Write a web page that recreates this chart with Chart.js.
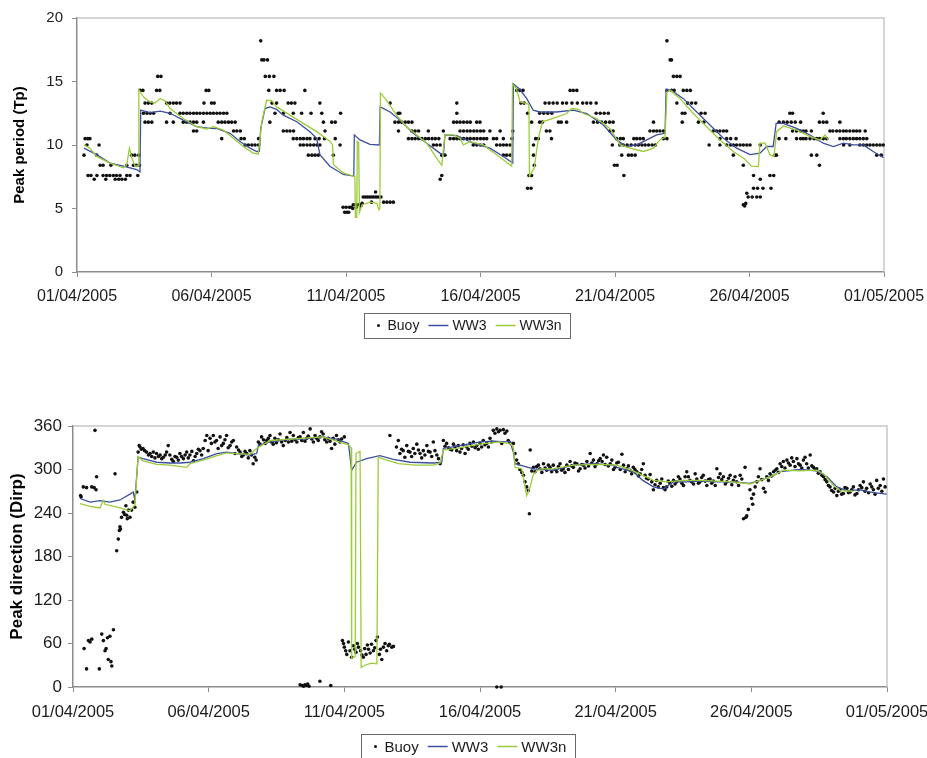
<!DOCTYPE html>
<html>
<head>
<meta charset="utf-8">
<script src="https://cdn.jsdelivr.net/npm/chart.js@4.4.1/dist/chart.umd.min.js"></script>
<style>
  html, body { margin: 0; padding: 0; background: #fff; width: 927px; height: 758px; overflow: hidden; }
  .panel { position: absolute; left: 0; width: 927px; }
  #topPanel { top: 0; height: 350px; }
  #bottomPanel { top: 400px; height: 358px; }
  canvas { display: block; }
</style>
</head>
<body>
<div class="panel" id="topPanel"><canvas id="tpChart" width="927" height="350"></canvas></div>
<div class="panel" id="bottomPanel"><canvas id="dirChart" width="927" height="358"></canvas></div>
<script>
// ---- axis labels ----
const dateTickDays = [0, 5, 10, 15, 20, 25, 30];            // days since 01/04/2005
const dateLabels = ['01/04/2005', '06/04/2005', '11/04/2005', '16/04/2005', '21/04/2005', '26/04/2005', '01/05/2005'];
const tpTickValues = [0, 5, 10, 15, 20];
const dirTickValues = [0, 60, 120, 180, 240, 300, 360];
const seriesNames = ['Buoy', 'WW3', 'WW3n'];

// ---- peak period (s): [day, Tp] ----
const tpWW3 = [[0.26,9.75],[0.73,9.24],[1.23,8.58],[1.72,8.33],[2.22,8.07],[2.34,7.88],[2.37,12.74],[2.71,12.55],[3.09,12.66],[3.46,12.5],[3.95,11.96],[4.45,11.44],[4.94,11.31],[5.19,11.3],[5.69,10.92],[6.06,10.27],[6.43,9.75],[6.68,9.49],[6.78,9.5],[6.83,11.31],[6.99,12.87],[7.17,13.0],[7.42,12.8],[7.67,12.35],[8.17,11.83],[8.66,11.05],[8.91,10.53],[9.03,9.24],[9.4,8.33],[9.9,7.68],[10.29,7.55],[10.31,10.8],[10.52,10.4],[10.89,10.05],[11.24,10.0],[11.27,13.0],[11.64,12.6],[12.0,11.96],[12.5,10.92],[13.0,10.14],[13.49,9.36],[13.62,9.2],[13.68,10.79],[14.12,10.74],[14.73,10.14],[15.35,9.75],[15.85,9.1],[16.2,8.58],[16.22,14.81],[16.47,14.37],[16.72,13.65],[16.96,12.74],[17.2,12.6],[17.83,12.6],[18.45,12.74],[18.95,12.48],[19.57,11.57],[20.06,10.4],[20.43,9.88],[20.81,10.01],[21.18,10.4],[21.55,10.79],[21.86,10.92],[21.9,14.37],[22.1,14.3],[22.54,13.65],[23.04,12.6],[23.53,11.57],[24.03,10.53],[24.52,9.75],[25.02,9.24],[25.39,9.36],[25.64,9.88],[25.88,9.88],[25.99,11.7],[26.26,11.7],[26.75,11.31],[27.25,10.79],[27.74,10.14],[28.12,9.88],[28.49,10.14],[28.86,10.01],[29.23,10.01],[29.6,9.49],[29.98,9.0]];

const tpWW3n = [[0.26,10.01],[0.48,9.75],[0.73,9.1],[1.23,8.58],[1.72,8.2],[1.85,8.46],[1.95,9.75],[2.04,8.97],[2.16,8.33],[2.29,8.4],[2.3,14.37],[2.47,13.77],[2.71,13.39],[2.9,13.3],[3.09,13.65],[3.27,13.5],[3.46,12.87],[3.95,12.09],[4.45,11.44],[4.82,11.26],[5.07,11.44],[5.44,11.18],[5.81,10.53],[6.18,9.88],[6.55,9.36],[6.74,9.3],[6.87,11.83],[7.05,13.52],[7.24,13.5],[7.42,13.0],[7.92,12.35],[8.41,11.7],[8.91,11.05],[9.4,10.3],[9.5,10.0],[9.53,8.46],[9.9,7.8],[10.27,7.55],[10.33,7.5],[10.35,4.3],[10.4,4.3],[10.42,10.27],[10.47,10.2],[10.5,4.7],[10.6,5.3],[10.9,5.5],[11.15,5.4],[11.22,4.9],[11.26,5.0],[11.28,14.1],[11.51,13.52],[11.88,12.35],[12.25,11.44],[12.63,10.79],[13.0,10.14],[13.37,8.97],[13.56,8.4],[13.68,10.79],[13.99,10.79],[14.24,10.53],[14.36,10.01],[14.61,10.27],[15.1,10.01],[15.6,9.24],[16.16,8.33],[16.19,14.8],[16.34,14.4],[16.47,13.39],[16.65,13.3],[16.8,13.2],[16.82,7.55],[17.0,8.2],[17.15,10.53],[17.3,11.83],[17.7,12.09],[18.2,12.48],[18.39,12.87],[18.64,12.8],[18.82,12.48],[19.32,12.09],[19.81,11.31],[20.19,10.01],[20.56,9.75],[21.05,9.49],[21.43,9.75],[21.67,10.4],[21.86,10.6],[21.93,14.16],[22.06,14.3],[22.42,13.65],[22.91,12.48],[23.41,11.44],[23.9,10.4],[24.4,9.49],[24.77,8.97],[25.08,8.33],[25.33,8.3],[25.39,10.14],[25.58,10.14],[25.76,9.24],[25.91,9.1],[26.01,11.05],[26.26,11.5],[26.75,11.18],[27.25,10.66],[27.62,10.4],[27.81,10.79],[27.93,10.4]];

const tpBuoy = [
  [0.26,9.2],[0.3,10.5],[0.4,10.5],[0.48,10.5],[0.37,10.0],[0.82,10.0],[0.73,9.2],[0.41,7.6],[0.52,7.6],[0.64,7.3],[0.74,7.6],[0.86,8.4],[0.97,8.4],[0.97,7.6],[1.07,7.3],[1.1,7.6],[1.22,7.6],[1.26,8.4],[1.35,7.6],[1.47,7.6],[1.6,7.6],[1.42,7.3],[1.55,7.3],[1.67,7.3],[1.8,7.3],[1.85,7.6],[1.97,7.6],[1.85,8.4],[2.03,9.2],[2.1,8.4],[2.2,8.4],[2.32,8.4],[2.26,7.6],[2.15,9.2],[2.3,9.2],
  [2.35,14.3],[2.45,14.3],[2.96,14.3],[3.08,14.3],[4.8,14.3],[4.9,14.3],[3.0,15.4],[3.12,15.4],
  [2.53,13.3],[2.65,13.3],[2.78,13.3],[3.33,13.3],[3.45,13.3],[3.58,13.3],[3.7,13.3],[3.83,13.3],[4.72,13.3],[5.0,13.3],[5.1,13.3],
  [2.47,12.5],[2.6,12.5],[2.72,12.5],[2.85,12.5],[3.46,12.5],[3.83,12.5],[3.95,12.5],[4.08,12.5],[4.2,12.5],[4.33,12.5],[4.45,12.5],[4.57,12.5],[4.7,12.5],[4.83,12.5],[4.95,12.5],[5.07,12.5],[5.2,12.5],[5.32,12.5],[5.45,12.5],[5.57,12.5],
  [2.53,11.8],[2.65,11.8],[2.78,11.8],[3.33,11.8],[3.58,11.8],[3.95,11.8],[4.08,11.8],[4.2,11.8],[4.33,11.8],[4.45,11.8],[4.7,11.8],[5.25,11.8],[5.38,11.8],[5.5,11.8],[5.63,11.8],[5.75,11.8],[5.88,11.8],
  [4.33,11.1],[4.45,11.1],[5.82,11.1],[5.94,11.1],[6.07,11.1],[5.38,10.5],[6.1,10.5],[6.22,10.5],[6.75,10.5],
  [6.25,10.0],[6.37,10.0],[6.5,10.0],[6.62,10.0],[6.75,10.0],
  [6.83,18.2],[6.87,16.7],[6.95,16.7],[7.08,16.7],[7.0,15.4],[7.15,15.4],[7.32,15.4],[7.13,14.3],[7.42,14.3],[7.55,14.3],[7.7,14.3],[8.47,14.3],
  [7.25,13.3],[7.42,13.3],[7.85,13.3],[7.97,13.3],[8.1,13.3],[9.03,13.3],
  [7.36,12.5],[7.67,12.5],[8.04,12.5],[8.35,12.5],[8.7,12.5],[9.1,12.5],[9.8,12.5],
  [7.17,11.8],[9.16,11.8],[9.47,11.8],[9.6,11.8],[7.67,11.1],[7.8,11.1],[7.92,11.1],[8.05,11.1],[9.22,11.1],
  [8.04,10.5],[8.17,10.5],[8.3,10.5],[8.42,10.5],[8.55,10.5],[8.66,10.5],[8.85,10.5],[9.0,10.5],[9.2,10.5],[9.6,10.5],
  [8.3,10.0],[8.42,10.0],[8.55,10.0],[8.67,10.0],[8.8,10.0],[8.92,10.0],[9.03,10.0],[9.78,10.0],
  [8.6,9.2],[8.73,9.2],[8.85,9.2],[8.97,9.2],[9.53,9.2],
  [9.89,5.1],[9.95,4.7],[10.03,4.7],[10.1,4.7],[10.0,5.1],[10.12,5.1],[10.2,5.1],[10.27,5.3],[10.35,5.3],[10.42,5.3],[10.5,5.3],[10.6,5.4],[10.25,5.0],[10.38,5.1],[10.55,5.2],
  [10.64,5.9],[10.72,5.9],[10.8,5.9],[10.88,5.9],[10.96,5.9],[11.04,5.9],[11.12,5.9],[11.2,5.9],[11.3,5.9],[11.1,6.3],[10.95,5.5],[11.4,5.5],[11.52,5.5],[11.64,5.5],[11.76,5.5],
  [11.64,13.3],[11.94,12.5],[12.0,12.5],[11.82,11.8],[11.95,11.8],[12.07,11.8],[12.2,11.8],[12.32,11.8],[12.45,11.8],[11.95,11.1],[12.45,11.1],[12.57,11.1],[12.7,11.1],
  [12.32,10.5],[12.45,10.5],[12.57,10.5],[12.7,10.5],[12.82,10.5],[12.95,10.5],[13.07,10.5],[13.2,10.5],[13.32,10.5],[13.45,10.5],[13.06,11.1],[13.25,10.0],[13.37,10.0],[13.5,10.0],[13.56,9.2],[13.68,9.2],[13.56,7.6],[13.5,7.3],[13.62,11.1],
  [14.12,13.3],[14.12,12.5],[14.0,11.8],[14.12,11.8],[14.24,11.8],[14.37,11.8],[14.5,11.8],[14.62,11.8],[14.86,11.8],[14.98,11.8],
  [13.87,10.5],[14.0,10.5],[14.12,10.5],[14.24,10.5],[14.37,10.5],[14.5,10.5],[14.62,10.5],[14.75,10.5],[14.87,10.5],[15.0,10.5],[15.12,10.5],[15.23,10.5],[15.48,10.5],[15.6,10.5],[15.85,10.5],
  [14.24,11.1],[14.37,11.1],[14.5,11.1],[14.62,11.1],[14.75,11.1],[14.87,11.1],[15.0,11.1],[15.12,11.1],[15.35,11.1],[15.73,11.1],
  [14.73,10.0],[14.86,10.0],[15.0,10.0],[15.12,10.0],[15.6,10.0],[15.73,10.0],[15.85,10.0],[15.97,10.0],[16.1,10.0],[15.85,9.2],[15.97,9.2],[16.1,9.2],[16.17,10.5],[16.2,11.1],
  [16.35,14.3],[16.47,14.3],[16.58,14.3],[16.5,13.3],[16.62,13.3],[16.75,12.5],[16.9,11.8],[16.97,10.0],[16.97,9.2],[17.0,8.4],[16.8,7.6],[16.9,7.6],[16.75,6.6],[16.88,6.6],[17.05,10.5],[17.15,10.5],[17.2,11.8],[17.3,11.8],[17.45,11.1],[17.58,11.1],[17.64,10.5],[17.2,12.5],[17.35,12.5],[17.5,12.5],[17.65,12.5],
  [17.4,13.3],[17.55,13.3],[17.7,13.3],[17.85,13.3],[18.05,13.3],[18.2,13.3],[18.4,13.3],[18.6,13.3],[18.8,13.3],[18.95,13.3],[19.1,13.3],[19.3,13.3],[18.33,14.3],[18.45,14.3],[18.58,14.3],
  [19.3,12.5],[19.45,12.5],[19.6,12.5],[19.75,12.5],[17.9,11.8],[18.0,11.8],[18.2,11.8],[19.2,11.8],[19.35,11.8],[19.5,11.8],[19.65,11.8],[19.8,11.8],[19.93,11.8],[19.81,11.1],[19.93,11.1],[19.9,10.0],[19.98,8.4],
  [20.06,10.5],[20.2,10.5],[20.31,10.5],[20.18,10.0],[20.31,10.0],[20.45,10.0],[20.25,9.2],[20.5,9.2],[20.62,9.2],[20.75,9.2],[20.08,8.4],[20.33,7.6],[20.7,10.5],[20.81,10.5],[20.93,10.5],[21.05,10.5],[20.6,10.0],[20.75,10.0],[20.87,10.0],[21.0,10.0],[21.12,10.0],[21.25,10.0],[21.38,10.0],[21.5,10.0],[21.3,11.1],[21.43,11.1],[21.55,11.1],[21.67,11.1],[21.8,11.1],[21.43,11.8],[21.8,10.5],[21.93,10.5],
  [21.93,14.3],[21.93,18.2],[22.05,16.7],[22.1,16.7],[22.17,15.4],[22.3,15.4],[22.42,15.4],[22.1,14.3],[22.2,14.3],[22.54,14.3],[22.67,14.3],[22.8,14.3],[22.3,13.3],[22.7,13.3],[22.85,13.3],[23.0,13.3],[22.5,12.5],[22.6,12.5],[23.2,12.5],[23.35,12.5],[22.5,11.8],[23.1,11.8],[23.3,11.8],
  [23.65,11.1],[23.78,11.1],[23.9,11.1],[24.03,11.1],[24.15,11.1],[23.9,10.5],[24.15,10.5],[24.3,10.5],[24.5,10.5],[23.5,10.0],[23.9,10.0],[24.15,10.0],[24.3,10.0],[24.4,10.0],[24.52,10.0],[24.65,10.0],[24.77,10.0],[24.9,10.0],[25.02,10.0],[24.4,9.2],[24.77,8.4],
  [25.15,7.6],[25.4,7.3],[25.76,7.6],[25.9,7.6],[25.15,6.6],[25.3,6.6],[25.5,6.6],[25.8,6.6],[24.9,6.2],[24.95,5.9],[25.1,5.9],[25.27,5.9],[25.4,5.9],[24.77,5.3],[24.82,5.2],[24.86,5.4],[25.4,10.0],[26.0,9.2],[25.95,9.2],
  [26.5,12.5],[26.6,12.5],[26.1,11.8],[26.26,11.8],[26.4,11.8],[26.55,11.8],[26.7,11.8],[26.9,11.8],[26.6,11.1],[26.75,11.1],[26.9,11.1],[27.0,11.1],[27.1,11.1],[27.3,11.1],[26.1,10.5],[26.35,10.5],[26.75,10.5],[26.9,10.5],[27.0,10.5],[27.1,10.5],[27.25,10.5],[27.4,10.5],[27.5,10.5],[27.6,10.5],[27.74,10.5],[27.87,10.5],
  [27.74,12.5],[27.6,11.8],[27.74,11.8],[27.87,11.8],[28.36,11.8],[27.99,11.1],[28.1,11.1],[28.24,11.1],[28.36,11.1],[28.49,11.1],[28.6,11.1],[28.73,11.1],[28.86,11.1],[28.98,11.1],[29.1,11.1],[29.3,11.1],
  [28.36,10.5],[28.49,10.5],[28.6,10.5],[28.73,10.5],[28.86,10.5],[28.98,10.5],[29.1,10.5],[29.23,10.5],[29.36,10.5],[28.5,10.0],[28.73,10.0],[29.1,10.0],[29.23,10.0],[29.36,10.0],[29.48,10.0],[29.6,10.0],[29.73,10.0],[29.85,10.0],[29.97,10.0],[27.3,9.2],[27.5,9.2],[27.6,8.4],[29.73,9.2],[29.9,9.2]
];

// ---- peak direction (deg): [day, Dirp] ----
const dirWW3 = [[0.26,260],[0.63,255],[1.0,257],[1.36,255],[1.73,258],[2.1,266],[2.22,269],[2.28,258],[2.4,317],[2.58,315],[3.08,310],[3.57,309],[3.94,309],[4.31,310],[4.8,315],[5.3,322],[5.67,324],[6.04,322],[6.52,320],[6.77,322],[6.83,333],[7.26,338],[8.0,342],[8.5,342],[9.22,345],[9.71,342],[10.15,336],[10.27,299],[10.45,310],[10.82,315],[11.31,319],[11.81,314],[12.42,310],[13.28,309],[13.59,310],[13.65,329],[14.26,333],[15.0,338],[15.49,339],[15.99,338],[16.1,339],[16.23,324],[16.29,308],[16.97,301],[17.7,299],[18.44,306],[19.18,308],[19.92,306],[20.04,303],[20.65,297],[21.0,285],[21.39,276],[21.76,273],[22.13,283],[22.62,283],[23.11,284],[23.73,283],[24.34,283],[24.95,281],[25.32,285],[25.82,292],[26.06,297],[26.8,300],[27.41,298],[27.79,290],[28.15,276],[28.52,271],[29.0,272],[29.5,268],[29.99,266]];

const dirWW3n = [[0.26,253],[0.63,249],[1.0,247],[1.06,253],[1.12,257],[1.18,252],[1.73,247],[2.1,243],[2.28,251],[2.4,318],[2.58,312],[3.08,307],[3.57,306],[4.19,303],[4.31,308],[4.8,313],[5.3,319],[5.67,323],[6.04,322],[6.52,321],[6.77,329],[7.26,340],[8.0,342],[9.22,345],[10.15,334],[10.25,330],[10.27,40],[10.4,42],[10.43,322],[10.58,325],[10.62,27],[10.75,30],[11.0,33],[11.2,32],[11.25,317],[11.56,313],[11.99,308],[12.6,306],[13.28,306],[13.53,309],[13.65,327],[14.14,329],[15.0,335],[15.74,338],[16.15,335],[16.23,331],[16.29,303],[16.54,301],[16.72,264],[16.85,276],[16.97,294],[17.21,301],[17.7,301],[18.44,306],[19.43,307],[20.04,306],[20.65,298],[21.0,292],[21.39,285],[21.88,283],[22.5,285],[23.11,285],[23.73,284],[24.34,283],[24.95,280],[25.32,285],[25.82,292],[26.18,299],[26.8,298],[27.41,299],[27.66,294],[28.03,278],[28.27,271],[28.76,270]];

const dirBuoy = [
  [0.81,354],[0.28,264],[0.3,262],[0.38,276],[0.5,275],[0.69,276],[0.78,275],[0.85,272],[0.87,290],[1.55,294],
  [0.41,53],[0.57,64],[0.63,62],[0.69,66],[0.5,25],[0.97,25],[1.06,73],[1.12,64],[1.18,50],[1.22,53],[1.27,68],[1.3,38],[1.36,70],[1.43,29],[1.49,79],[1.4,35],
  [1.61,188],[1.67,204],[1.71,216],[1.73,221],[1.75,218],[1.79,234],[1.86,241],[1.9,238],[1.98,237],[2.04,244],[2.1,234],[2.16,244],[2.22,255],[2.28,248],[2.35,269],[2.0,232],[1.95,250],
  [2.4,324],[2.44,333],[2.47,331],[2.52,328],[2.58,329],[2.64,326],[2.71,324],[2.78,320],[2.84,322],[2.9,318],[2.96,324],[3.02,316],[3.08,322],[3.15,318],[3.21,320],[3.27,315],[3.33,317],[3.4,320],[3.45,324],[3.51,333],[3.57,320],[3.64,314],[3.7,311],[3.76,318],[3.82,317],[3.88,313],[3.94,322],[4.0,318],[4.07,315],[4.13,320],[4.19,324],[4.25,316],[4.31,320],[4.38,325],[4.44,312],[4.5,318],[4.56,322],[4.62,328],[4.68,326],[4.74,320],[4.8,329],
  [4.87,340],[4.93,347],[4.98,326],[5.05,343],[5.1,336],[5.17,347],[5.23,338],[5.29,340],[5.35,329],[5.42,345],[5.48,333],[5.54,336],[5.6,341],[5.66,347],[5.72,330],[5.79,333],[5.85,338],[5.91,340],[5.97,322],[6.03,331],[6.1,327],[6.16,324],[6.22,318],[6.28,320],[6.34,325],[6.4,322],[6.46,316],[6.52,326],[6.58,320],[6.64,308],[6.7,317],[6.75,313],
  [6.83,338],[6.89,335],[6.95,345],[7.02,341],[7.08,336],[7.14,340],[7.2,343],[7.26,347],[7.32,338],[7.38,335],[7.44,343],[7.5,337],[7.57,341],[7.63,349],[7.69,338],[7.75,333],[7.82,340],[7.88,344],[7.94,338],[8.0,351],[8.06,339],[8.12,347],[8.18,341],[8.25,338],[8.31,344],[8.37,345],[8.43,340],[8.49,351],[8.55,339],[8.61,343],[8.67,346],[8.74,356],[8.8,342],[8.86,338],[8.92,347],[8.98,343],[9.04,340],[9.1,345],[9.16,352],[9.22,349],[9.28,341],[9.35,338],[9.41,343],[9.47,339],[9.53,329],[9.59,343],[9.65,335],[9.71,347],[9.78,341],[9.84,338],[9.9,342],[10.0,345],
  [8.37,3],[8.45,2],[8.5,1],[8.55,3],[8.6,2],[8.65,4],[8.7,1],[9.1,8],[9.5,2],
  [9.93,64],[10.0,55],[10.09,45],[10.15,62],[10.21,50],[10.27,41],[10.33,57],[10.38,52],[10.43,48],[10.48,60],[10.52,55],[10.6,50],[10.65,44],[10.7,41],[10.75,53],[10.8,45],[10.85,58],[10.89,52],[10.95,47],[11.0,59],[11.07,50],[11.12,54],[11.17,64],[11.22,69],[11.29,45],[11.33,52],[11.38,38],[11.44,55],[11.5,60],[11.56,50],[11.62,57],[11.66,59],[11.75,55],[11.81,56],[9.97,60],[10.05,50],
  [11.68,347],[11.92,331],[11.99,340],[12.05,322],[12.11,328],[12.17,326],[12.23,317],[12.3,333],[12.36,325],[12.42,324],[12.48,318],[12.54,329],[12.6,322],[12.67,335],[12.73,327],[12.79,322],[12.85,316],[12.91,326],[12.97,320],[13.04,333],[13.1,325],[13.16,324],[13.22,318],[13.28,338],[13.34,326],[13.41,320],[13.47,315],[13.53,308],
  [13.65,340],[13.71,332],[13.77,336],[13.84,330],[13.9,328],[13.96,327],[14.02,335],[14.08,331],[14.14,326],[14.2,333],[14.26,324],[14.32,329],[14.38,334],[14.45,322],[14.51,331],[14.57,328],[14.63,336],[14.7,332],[14.76,338],[14.82,330],[14.88,333],[14.94,328],[15.0,336],[15.06,331],[15.12,340],[15.18,334],[15.25,336],[15.31,331],[15.37,343],[15.43,338],[15.49,354],[15.55,350],[15.62,356],[15.68,352],[15.74,354],[15.8,336],[15.86,355],[15.92,350],[15.99,353],[16.04,340],[16.1,337],
  [15.62,0],[15.78,0],
  [16.23,336],[16.29,322],[16.35,313],[16.41,308],[16.47,300],[16.54,296],[16.6,292],[16.66,283],[16.72,276],[16.78,271],[16.82,239],[16.85,327],[16.91,298],[16.97,303],[17.03,297],[17.09,304],[17.15,306],[17.21,301],[17.28,296],[17.34,308],[17.4,302],[17.46,299],[17.52,306],[17.58,303],[17.64,297],[17.7,306],[17.77,300],[17.83,297],[17.89,304],[17.95,308],[18.01,299],[18.07,301],[18.13,296],[18.2,306],[18.26,300],[18.32,311],[18.38,305],[18.44,303],[18.5,309],[18.57,308],[18.63,298],[18.69,301],[18.75,307],[18.81,306],[18.87,302],[18.94,311],[19.0,305],[19.06,322],[19.12,309],[19.18,313],[19.24,304],[19.31,308],[19.37,312],[19.43,315],
  [19.5,311],[19.55,320],[19.61,307],[19.67,317],[19.73,305],[19.8,308],[19.86,313],[19.92,300],[19.98,303],[20.04,309],[20.1,310],[20.17,300],[20.23,321],[20.29,306],[20.35,297],[20.41,301],[20.47,305],[20.53,299],[20.59,294],[20.65,303],[20.71,300],[20.78,297],[20.84,291],[20.9,294],[20.96,300],[21.02,308],[21.08,292],[21.14,288],[21.2,287],[21.27,293],[21.33,283],[21.39,272],[21.45,279],[21.51,285],[21.57,276],[21.64,281],[21.7,287],[21.76,275],[21.82,272],[21.88,276],[21.94,284],[22.0,281],[22.07,277],[22.13,285],[22.19,280],[22.25,283],[22.31,290],[22.37,287],[22.44,281],[22.5,278],[22.56,290],[22.62,297],[22.68,290],[22.74,285],[22.8,283],[22.87,280],[22.93,294],[22.99,287],[23.05,281],[23.11,283],[23.17,289],[23.23,292],[23.3,284],[23.36,278],[23.42,286],[23.48,287],[23.54,281],[23.6,284],[23.67,278],[23.73,301],[23.79,289],[23.85,294],[23.91,286],[23.97,290],[24.04,280],[24.1,283],[24.16,288],[24.22,292],[24.28,279],[24.34,285],[24.4,290],[24.46,283],[24.53,278],[24.59,292],[24.65,287],
  [24.71,232],[24.77,303],[24.8,234],[24.83,236],[24.89,245],[24.95,272],[25.01,260],[25.05,252],[25.08,266],[25.14,276],[25.2,283],[25.26,290],[25.32,301],[25.38,286],[25.45,274],[25.51,269],[25.57,290],[25.63,285],[25.69,294],[25.75,291],[25.82,297],[25.88,299],[25.94,301],[26.0,296],[26.06,308],[26.12,304],[26.18,311],[26.24,302],[26.31,313],[26.37,309],[26.43,306],[26.49,316],[26.55,311],[26.61,304],[26.68,315],[26.74,308],[26.8,306],[26.86,302],[26.92,313],[26.98,317],[27.04,308],[27.1,302],[27.17,320],[27.23,305],[27.29,303],[27.35,300],[27.41,301],[27.47,295],[27.53,297],[27.6,292],[27.66,290],[27.72,286],[27.78,283],[27.84,278],[27.9,276],[27.96,271],[28.03,269],[28.09,274],[28.15,264],[28.21,270],[28.27,272],[28.33,266],[28.39,267],[28.45,275],[28.52,274],[28.58,268],[28.64,269],[28.7,272],[28.76,276],[28.82,265],[28.89,267],[28.95,272],[29.01,278],[29.07,275],[29.13,283],[29.19,270],[29.25,274],[29.32,268],[29.38,280],[29.44,276],[29.5,272],[29.56,266],[29.62,285],[29.68,274],[29.75,278],[29.81,270],[29.87,287],[29.93,276]
];

// ---- styling ----
const FONT = '"Liberation Sans", Arial, Helvetica, sans-serif';
const BUOY_COLOR = '#111111';
const WW3_COLOR = '#3d4f9f';
const WW3N_COLOR = '#9ccb38';
const AXIS_COLOR = '#8c8c8c';
const FRAME_COLOR = '#c8c8c8';
const TEXT_COLOR = '#1c1c1c';

const toXY = pairs => pairs.map(([x, y]) => ({ x, y }));

// light frame on the top and right edges of the plot area
const framePlugin = {
  id: 'plotFrame',
  beforeDatasetsDraw(chart) {
    const { ctx, chartArea: a } = chart;
    ctx.save();
    ctx.strokeStyle = FRAME_COLOR;
    ctx.lineWidth = 1.5;
    ctx.beginPath();
    ctx.moveTo(a.left, a.top);
    ctx.lineTo(a.right, a.top);
    ctx.lineTo(a.right, a.bottom);
    ctx.stroke();
    ctx.restore();
  }
};

// boxed legend drawn under the axis, built from the datasets
const boxLegendPlugin = {
  id: 'boxLegend',
  afterDraw(chart, args, opts) {
    const ctx = chart.ctx;
    const fs = opts.fontSize;
    ctx.save();
    ctx.font = `${fs}px ${FONT}`;
    const lineLen = 20, dotSlot = 10, symGap = 4, itemGap = 9, padX = 9;
    const items = chart.data.datasets.map(ds => ({
      label: ds.label,
      isDot: ds.showLine === false,
      color: ds.showLine === false ? ds.backgroundColor : ds.borderColor,
      tw: ctx.measureText(ds.label).width
    }));
    let total = padX * 2;
    items.forEach((it, i) => {
      total += (it.isDot ? dotSlot : lineLen) + symGap + it.tw + (i < items.length - 1 ? itemGap : 0);
    });
    const left = Math.round(opts.centerX - total / 2) + 0.5;
    const top = Math.round(opts.centerY - opts.boxHeight / 2) + 0.5;
    ctx.strokeStyle = '#6a6a6a';
    ctx.lineWidth = 1;
    ctx.strokeRect(left, top, Math.round(total), opts.boxHeight);
    let x = left + padX;
    const cy = opts.centerY;
    ctx.textBaseline = 'middle';
    ctx.fillStyle = TEXT_COLOR;
    items.forEach(it => {
      if (it.isDot) {
        ctx.fillStyle = it.color;
        ctx.beginPath();
        ctx.arc(x + dotSlot / 2, cy, 1.5, 0, Math.PI * 2);
        ctx.fill();
        x += dotSlot;
      } else {
        ctx.strokeStyle = it.color;
        ctx.lineWidth = 1.5;
        ctx.beginPath();
        ctx.moveTo(x, cy);
        ctx.lineTo(x + lineLen, cy);
        ctx.stroke();
        x += lineLen;
      }
      x += symGap;
      ctx.fillStyle = TEXT_COLOR;
      ctx.fillText(it.label, x, cy + 1);
      x += it.tw + itemGap;
    });
    ctx.restore();
  }
};

function makeDatasets(buoy, ww3, ww3n) {
  return [
    { label: seriesNames[0], data: toXY(buoy), showLine: false, pointRadius: 1.8, pointHoverRadius: 1.8,
      pointBorderWidth: 0, backgroundColor: BUOY_COLOR, borderColor: BUOY_COLOR, order: 3, clip: 4 },
    { label: seriesNames[1], data: toXY(ww3), showLine: true, pointRadius: 0, borderWidth: 1.3,
      borderColor: WW3_COLOR, backgroundColor: WW3_COLOR, tension: 0, order: 2 },
    { label: seriesNames[2], data: toXY(ww3n), showLine: true, pointRadius: 0, borderWidth: 1.3,
      borderColor: WW3N_COLOR, backgroundColor: WW3N_COLOR, tension: 0, order: 1 }
  ];
}

function makeConfig(cfg) {
  return {
    type: 'scatter',
    data: { datasets: makeDatasets(cfg.buoy, cfg.ww3, cfg.ww3n) },
    plugins: [framePlugin, boxLegendPlugin],
    options: {
      responsive: false,
      animation: false,
      events: [],
      layout: { padding: cfg.padding },
      plugins: {
        legend: { display: false },
        tooltip: { enabled: false },
        boxLegend: cfg.legend
      },
      scales: {
        x: {
          type: 'linear', min: 0, max: 30,
          afterBuildTicks: s => { s.ticks = dateTickDays.map(v => ({ value: v })); },
          afterFit: s => { s.height = cfg.xAxisHeight; s.paddingLeft = 0; s.paddingRight = 0; },
          ticks: {
            autoSkip: false, maxRotation: 0, minRotation: 0,
            padding: cfg.xTickPad, color: TEXT_COLOR,
            font: { family: FONT, size: cfg.xTickSize },
            callback: (v, i) => dateLabels[i]
          },
          grid: { drawOnChartArea: false, drawTicks: true, tickLength: 5, color: AXIS_COLOR, lineWidth: 1 },
          border: { display: true, color: AXIS_COLOR, width: 1.5 }
        },
        y: {
          type: 'linear', min: cfg.yMin, max: cfg.yMax,
          afterBuildTicks: s => { s.ticks = cfg.yTicks.map(v => ({ value: v })); },
          afterFit: s => { s.width = cfg.yAxisWidth; },
          ticks: {
            padding: cfg.yTickPad, color: TEXT_COLOR,
            font: { family: FONT, size: cfg.yTickSize }
          },
          grid: { drawOnChartArea: false, drawTicks: true, tickLength: 5, color: AXIS_COLOR, lineWidth: 1 },
          border: { display: true, color: AXIS_COLOR, width: 1.5 },
          title: {
            display: true, text: cfg.yTitle, color: '#000',
            font: { family: FONT, size: cfg.yTitleSize, weight: 'bold' },
            padding: { top: cfg.yTitlePad, bottom: 0 }
          }
        }
      }
    }
  };
}

// Peak period panel
new Chart(document.getElementById('tpChart'), makeConfig({
  buoy: tpBuoy, ww3: tpWW3, ww3n: tpWW3n,
  padding: { top: 15, right: 43, bottom: 43, left: 0 },
  xAxisHeight: 35, yAxisWidth: 77,
  xTickPad: 10, xTickSize: 16, yTickPad: 9, yTickSize: 15,
  yMin: 0, yMax: 20, yTicks: tpTickValues,
  yTitle: 'Peak period (Tp)', yTitleSize: 15, yTitlePad: 11,
  legend: { centerX: 467, centerY: 325.5, boxHeight: 25, fontSize: 14 }
}));

// Peak direction panel
new Chart(document.getElementById('dirChart'), makeConfig({
  buoy: dirBuoy, ww3: dirWW3, ww3n: dirWW3n,
  padding: { top: 26, right: 40, bottom: 36, left: 0 },
  xAxisHeight: 35, yAxisWidth: 73,
  xTickPad: 11, xTickSize: 16.5, yTickPad: 6, yTickSize: 17,
  yMin: 0, yMax: 360, yTicks: dirTickValues,
  yTitle: 'Peak direction (Dirp)', yTitleSize: 17, yTitlePad: 7,
  legend: { centerX: 468, centerY: 346.5, boxHeight: 25, fontSize: 15 }
}));
</script>
</body>
</html>
